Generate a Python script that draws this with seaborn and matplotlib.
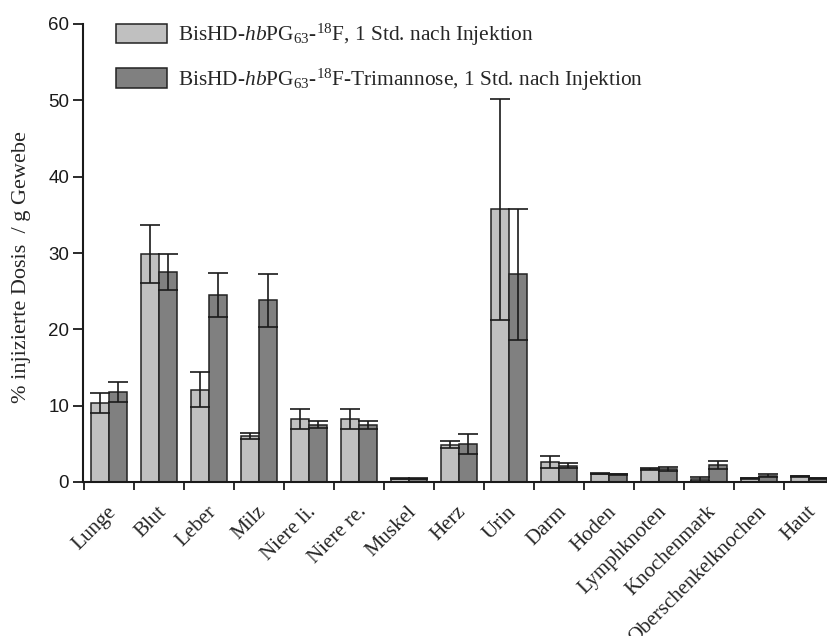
import matplotlib
matplotlib.use("Agg")
import matplotlib.pyplot as plt
from matplotlib.patches import Patch
from matplotlib.ticker import FixedLocator, NullFormatter
from matplotlib.transforms import ScaledTranslation
import numpy as np
import pandas as pd
import seaborn as sns

# Biodistribution data (mean and standard deviation, % ID / g tissue)
organs = ["Lunge", "Blut", "Leber", "Milz", "Niere li.", "Niere re.", "Muskel",
          "Herz", "Urin", "Darm", "Hoden", "Lymphknoten", "Knochenmark",
          "Oberschenkelknochen", "Haut"]
series_names = [
    "BisHD-$\\mathit{hb}$PG$_{63}$-$^{18}$F, 1 Std. nach Injektion",
    "BisHD-$\\mathit{hb}$PG$_{63}$-$^{18}$F-Trimannose, 1 Std. nach Injektion",
]
plain_mean = [10.3, 29.9, 12.1, 6.0, 8.3, 8.25, 0.45, 4.9, 35.7, 2.6, 1.1, 1.7, 0.35, 0.5, 0.75]
plain_sd = [1.3, 3.8, 2.25, 0.4, 1.3, 1.3, 0.08, 0.5, 14.5, 0.75, 0.1, 0.15, 0.25, 0.06, 0.1]
mannose_mean = [11.8, 27.5, 24.5, 23.8, 7.5, 7.5, 0.4, 5.0, 27.2, 2.15, 1.0, 1.7, 2.2, 0.85, 0.5]
mannose_sd = [1.35, 2.35, 2.85, 3.5, 0.45, 0.5, 0.06, 1.3, 8.6, 0.3, 0.08, 0.3, 0.55, 0.22, 0.06]

colors = ["#c0c0c0", "#808080"]

sns.set_style("ticks")
plt.rcParams["font.family"] = ["Liberation Serif", "DejaVu Serif"]
plt.rcParams["mathtext.fontset"] = "custom"
plt.rcParams["mathtext.rm"] = "Liberation Serif"
plt.rcParams["mathtext.it"] = "Liberation Serif:italic"
plt.rcParams["mathtext.bf"] = "Liberation Serif:bold"

df = pd.DataFrame({
    "Organ": organs * 2,
    "Wert": plain_mean + mannose_mean,
    "Probe": [series_names[0]] * len(organs) + [series_names[1]] * len(organs),
})

fig = plt.figure(figsize=(8.27, 6.36), dpi=100)
ax = fig.add_axes([83 / 827, 154 / 636, 744 / 827, 458 / 636])

sns.barplot(data=df, x="Organ", y="Wert", hue="Probe", order=organs,
            hue_order=series_names, palette=colors, width=0.71,
            edgecolor="#222222", linewidth=1.1, errorbar=None, ax=ax)

# standard deviation whiskers on top of each bar
for container, sd in zip(ax.containers, [plain_sd, mannose_sd]):
    xs = [b.get_x() + b.get_width() / 2 for b in container]
    ys = [b.get_height() for b in container]
    ax.errorbar(xs, ys, yerr=sd, fmt="none", ecolor="#1a1a1a",
                elinewidth=1.2, capsize=7.5, capthick=1.2, zorder=5)

ax.set_xlim(-0.52, 14.36)
ax.set_ylim(0, 60)
ax.set_yticks(np.arange(0, 61, 10))
for lab in ax.get_yticklabels():
    lab.set_fontfamily("Liberation Sans")
    lab.set_fontsize(13.5)
ax.tick_params(axis="y", length=7, width=1.3, direction="out", colors="#1a1a1a", pad=3)

# category labels centred under the bar pairs, tick marks between categories
ax.set_xticks(range(len(organs)))
ax.set_xticklabels(organs, rotation=45, ha="right", va="center",
                   rotation_mode="anchor", fontsize=15)
ax.tick_params(axis="x", which="major", length=0, pad=16)
shift = ScaledTranslation(0.045, -0.05, fig.dpi_scale_trans)
for lab in ax.get_xticklabels():
    lab.set_transform(lab.get_transform() + shift)
ax.xaxis.set_minor_locator(FixedLocator(np.arange(-0.5, 14.6, 1.0)))
ax.xaxis.set_minor_formatter(NullFormatter())
ax.tick_params(axis="x", which="minor", length=6, width=1.3, direction="out", color="#1a1a1a")

ax.set_xlabel("")
ax.set_ylabel("% injizierte Dosis  / g Gewebe", fontsize=16)
ax.yaxis.set_label_coords((31 - 83) / 744, 0.47)

for side in ["top", "right"]:
    ax.spines[side].set_visible(False)
for side in ["left", "bottom"]:
    ax.spines[side].set_linewidth(1.5)
    ax.spines[side].set_color("#1a1a1a")

handles = [Patch(facecolor=c, edgecolor="#222222", linewidth=1.1) for c in colors]
leg = ax.legend(handles, series_names, loc="upper left",
                bbox_to_anchor=(116 / 827, 1 - 22 / 636), bbox_transform=fig.transFigure,
                frameon=False, fontsize=15.4, handlelength=2.4, handleheight=1.0,
                handletextpad=0.5, labelspacing=0.85, borderpad=0, borderaxespad=0)

fig.savefig("out.png", dpi=100)
